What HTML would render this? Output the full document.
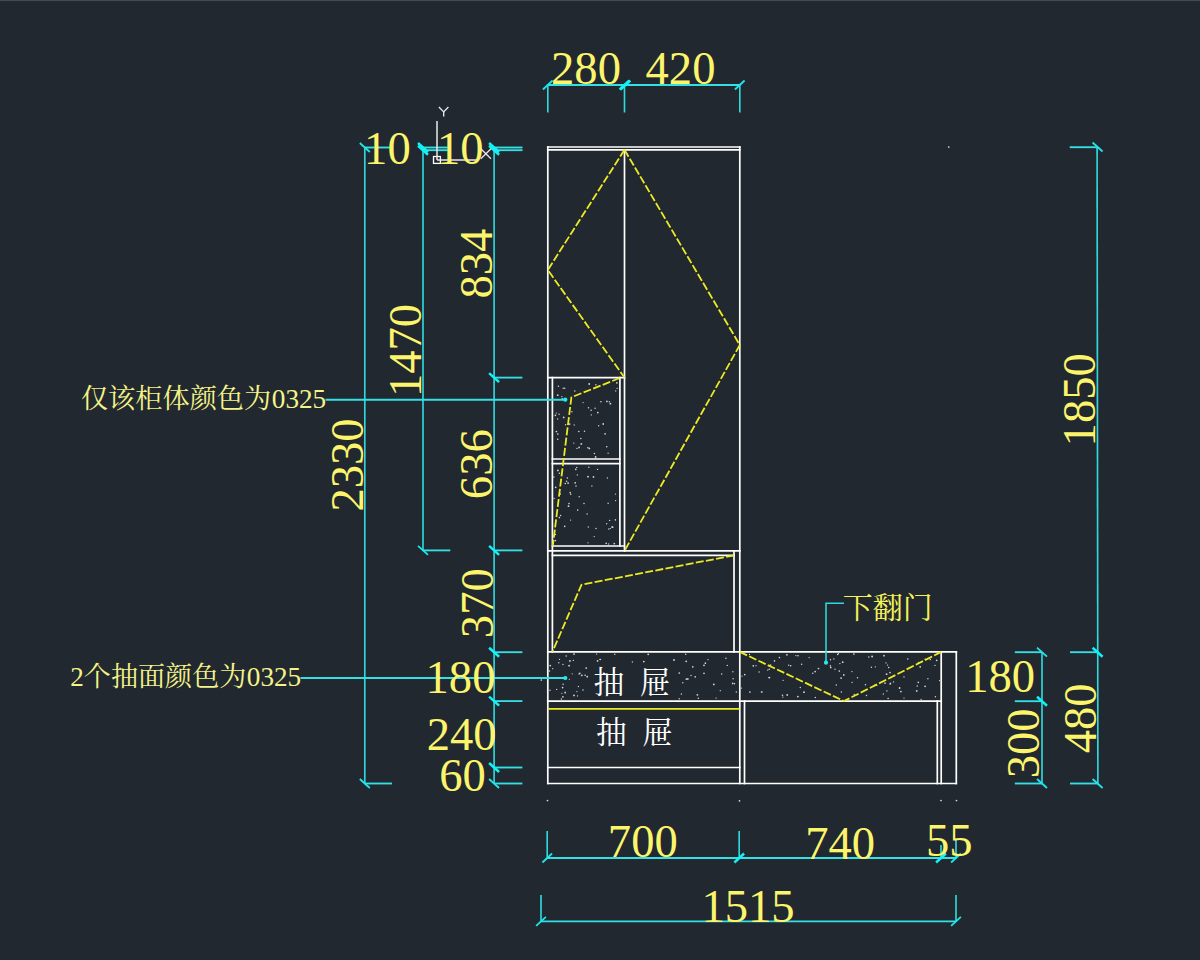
<!DOCTYPE html>
<html lang="zh"><head><meta charset="utf-8"><title>柜体立面图</title>
<style>
html,body{margin:0;padding:0;background:#212830;}
body{width:1200px;height:960px;overflow:hidden;font-family:"Liberation Serif",serif;}
svg{display:block;}
</style></head><body>
<svg width="1200" height="960" viewBox="0 0 1200 960">
<rect width="1200" height="960" fill="#212830"/>
<rect width="1200" height="1" fill="#434955"/><rect y="1" width="1200" height="1" fill="#252b35"/>
<g fill="#d2d5d8">
<circle cx="574.8" cy="390.9" r="0.74"/>
<circle cx="595.9" cy="384.8" r="0.78"/>
<circle cx="588.5" cy="407.8" r="0.73"/>
<circle cx="557.6" cy="418.9" r="0.72"/>
<circle cx="556.3" cy="413.1" r="0.64"/>
<circle cx="558.4" cy="386.2" r="0.70"/>
<circle cx="581.3" cy="443.9" r="0.91"/>
<circle cx="561.9" cy="396.6" r="0.66"/>
<circle cx="594.4" cy="453.4" r="0.77"/>
<circle cx="591.1" cy="410.2" r="0.81"/>
<circle cx="616.9" cy="382.8" r="0.88"/>
<circle cx="609.3" cy="401.8" r="0.68"/>
<circle cx="563.2" cy="388.3" r="0.70"/>
<circle cx="573.8" cy="443.1" r="0.69"/>
<circle cx="565.6" cy="424.7" r="0.74"/>
<circle cx="595.1" cy="408.3" r="0.75"/>
<circle cx="589.2" cy="384.0" r="0.91"/>
<circle cx="557.7" cy="395.2" r="0.87"/>
<circle cx="597.8" cy="412.6" r="0.88"/>
<circle cx="574.2" cy="425.0" r="0.63"/>
<circle cx="583.1" cy="402.6" r="0.63"/>
<circle cx="605.1" cy="433.9" r="0.83"/>
<circle cx="569.6" cy="424.1" r="0.89"/>
<circle cx="587.8" cy="447.7" r="0.76"/>
<circle cx="600.9" cy="401.7" r="0.80"/>
<circle cx="617.1" cy="388.4" r="0.62"/>
<circle cx="580.9" cy="438.5" r="0.74"/>
<circle cx="563.7" cy="417.4" r="0.90"/>
<circle cx="556.4" cy="431.5" r="0.87"/>
<circle cx="603.2" cy="424.0" r="0.88"/>
<circle cx="610.4" cy="403.7" r="0.91"/>
<circle cx="598.7" cy="425.7" r="0.69"/>
<circle cx="591.3" cy="414.9" r="0.65"/>
<circle cx="608.1" cy="453.2" r="0.67"/>
<circle cx="584.5" cy="431.2" r="0.78"/>
<circle cx="557.8" cy="434.1" r="0.82"/>
<circle cx="595.6" cy="457.0" r="0.90"/>
<circle cx="606.9" cy="401.4" r="0.84"/>
<circle cx="578.8" cy="431.5" r="0.81"/>
<circle cx="555.4" cy="415.3" r="0.85"/>
<circle cx="564.7" cy="388.3" r="0.76"/>
<circle cx="557.7" cy="439.3" r="0.79"/>
<circle cx="562.2" cy="398.5" r="0.63"/>
<circle cx="579.1" cy="447.4" r="0.85"/>
<circle cx="559.1" cy="414.3" r="0.69"/>
<circle cx="589.3" cy="448.4" r="0.90"/>
<circle cx="606.7" cy="446.8" r="0.81"/>
<circle cx="571.9" cy="411.7" r="0.71"/>
<circle cx="577.0" cy="448.4" r="0.66"/>
<circle cx="615.7" cy="390.9" r="0.70"/>
<circle cx="565.3" cy="483.5" r="0.81"/>
<circle cx="569.0" cy="503.6" r="0.83"/>
<circle cx="591.9" cy="486.0" r="0.65"/>
<circle cx="554.2" cy="498.4" r="0.64"/>
<circle cx="577.7" cy="510.1" r="0.78"/>
<circle cx="615.4" cy="519.9" r="0.79"/>
<circle cx="587.1" cy="514.1" r="0.74"/>
<circle cx="597.5" cy="469.4" r="0.69"/>
<circle cx="611.9" cy="527.0" r="0.80"/>
<circle cx="610.3" cy="528.5" r="0.62"/>
<circle cx="579.2" cy="496.8" r="0.71"/>
<circle cx="560.6" cy="515.5" r="0.76"/>
<circle cx="557.9" cy="470.4" r="0.91"/>
<circle cx="567.4" cy="478.0" r="0.81"/>
<circle cx="575.8" cy="469.3" r="0.89"/>
<circle cx="553.9" cy="477.1" r="0.76"/>
<circle cx="560.4" cy="494.0" r="0.69"/>
<circle cx="555.5" cy="534.5" r="0.69"/>
<circle cx="593.5" cy="476.9" r="0.91"/>
<circle cx="570.2" cy="492.7" r="0.83"/>
<circle cx="577.4" cy="474.9" r="0.71"/>
<circle cx="608.7" cy="544.0" r="0.63"/>
<circle cx="584.0" cy="503.5" r="0.77"/>
<circle cx="559.4" cy="473.2" r="0.82"/>
<circle cx="576.0" cy="486.1" r="0.75"/>
<circle cx="607.4" cy="477.9" r="0.70"/>
<circle cx="555.4" cy="540.6" r="0.82"/>
<circle cx="588.0" cy="476.7" r="0.90"/>
<circle cx="588.9" cy="467.2" r="0.69"/>
<circle cx="588.0" cy="542.8" r="0.63"/>
<circle cx="609.6" cy="520.4" r="0.72"/>
<circle cx="570.7" cy="494.2" r="0.75"/>
<circle cx="564.7" cy="526.4" r="0.82"/>
<circle cx="588.3" cy="527.0" r="0.68"/>
<circle cx="575.2" cy="482.8" r="0.86"/>
<circle cx="606.2" cy="543.3" r="0.84"/>
<circle cx="608.9" cy="529.1" r="0.77"/>
<circle cx="606.7" cy="523.8" r="0.68"/>
<circle cx="568.5" cy="506.2" r="0.91"/>
<circle cx="576.8" cy="467.4" r="0.71"/>
<circle cx="555.7" cy="487.3" r="0.87"/>
<circle cx="570.6" cy="520.1" r="0.69"/>
<circle cx="615.6" cy="500.6" r="0.69"/>
<circle cx="614.3" cy="543.6" r="0.85"/>
<circle cx="615.5" cy="494.1" r="0.71"/>
<circle cx="568.1" cy="483.1" r="0.91"/>
<circle cx="566.6" cy="481.3" r="0.77"/>
<circle cx="594.2" cy="536.6" r="0.68"/>
<circle cx="608.1" cy="503.2" r="0.69"/>
<circle cx="596.0" cy="528.6" r="0.75"/>
<circle cx="559.4" cy="517.6" r="0.82"/>
<circle cx="612.6" cy="527.2" r="0.90"/>
<circle cx="691.0" cy="675.5" r="0.66"/>
<circle cx="583.0" cy="689.9" r="0.74"/>
<circle cx="732.9" cy="671.7" r="0.68"/>
<circle cx="686.2" cy="661.3" r="0.91"/>
<circle cx="573.3" cy="660.4" r="0.66"/>
<circle cx="720.3" cy="690.7" r="0.64"/>
<circle cx="576.9" cy="691.6" r="0.64"/>
<circle cx="734.5" cy="683.8" r="0.74"/>
<circle cx="574.0" cy="654.1" r="0.89"/>
<circle cx="732.7" cy="683.4" r="0.89"/>
<circle cx="705.4" cy="663.2" r="0.84"/>
<circle cx="574.0" cy="695.4" r="0.92"/>
<circle cx="648.2" cy="654.3" r="0.90"/>
<circle cx="632.4" cy="661.9" r="0.72"/>
<circle cx="550.0" cy="690.3" r="0.68"/>
<circle cx="581.8" cy="675.3" r="0.90"/>
<circle cx="686.3" cy="679.1" r="0.84"/>
<circle cx="569.3" cy="679.3" r="0.63"/>
<circle cx="695.2" cy="676.9" r="0.82"/>
<circle cx="721.7" cy="673.9" r="0.73"/>
<circle cx="681.4" cy="693.9" r="0.73"/>
<circle cx="727.3" cy="665.4" r="0.72"/>
<circle cx="708.0" cy="659.7" r="0.67"/>
<circle cx="572.2" cy="673.8" r="0.62"/>
<circle cx="563.0" cy="664.5" r="0.70"/>
<circle cx="563.1" cy="684.3" r="0.73"/>
<circle cx="697.4" cy="694.8" r="0.91"/>
<circle cx="578.4" cy="686.5" r="0.66"/>
<circle cx="674.0" cy="660.0" r="0.91"/>
<circle cx="716.1" cy="698.1" r="0.68"/>
<circle cx="736.3" cy="691.9" r="0.73"/>
<circle cx="579.8" cy="673.3" r="0.87"/>
<circle cx="586.2" cy="668.1" r="0.87"/>
<circle cx="685.7" cy="654.3" r="0.75"/>
<circle cx="552.7" cy="668.7" r="0.63"/>
<circle cx="561.4" cy="698.9" r="0.76"/>
<circle cx="698.3" cy="698.3" r="0.73"/>
<circle cx="569.1" cy="665.7" r="0.90"/>
<circle cx="556.7" cy="689.4" r="0.68"/>
<circle cx="600.4" cy="659.4" r="0.73"/>
<circle cx="704.0" cy="665.3" r="0.89"/>
<circle cx="577.5" cy="695.9" r="0.63"/>
<circle cx="566.2" cy="656.1" r="0.74"/>
<circle cx="679.3" cy="673.0" r="0.86"/>
<circle cx="562.9" cy="696.8" r="0.85"/>
<circle cx="565.1" cy="693.0" r="0.63"/>
<circle cx="561.8" cy="693.3" r="0.63"/>
<circle cx="599.9" cy="659.4" r="0.64"/>
<circle cx="569.9" cy="660.9" r="0.90"/>
<circle cx="558.8" cy="662.7" r="0.70"/>
<circle cx="692.8" cy="666.8" r="0.84"/>
<circle cx="643.8" cy="661.6" r="0.89"/>
<circle cx="614.8" cy="654.2" r="0.72"/>
<circle cx="596.6" cy="654.1" r="0.70"/>
<circle cx="687.8" cy="678.9" r="0.91"/>
<circle cx="585.1" cy="675.3" r="0.81"/>
<circle cx="725.9" cy="658.3" r="0.70"/>
<circle cx="704.0" cy="673.4" r="0.83"/>
<circle cx="679.2" cy="698.8" r="0.71"/>
<circle cx="682.8" cy="682.8" r="0.70"/>
<circle cx="559.5" cy="659.4" r="0.62"/>
<circle cx="562.6" cy="687.6" r="0.85"/>
<circle cx="597.6" cy="660.9" r="0.89"/>
<circle cx="565.2" cy="692.3" r="0.81"/>
<circle cx="713.8" cy="684.4" r="0.90"/>
<circle cx="579.0" cy="674.0" r="0.63"/>
<circle cx="733.1" cy="678.7" r="0.69"/>
<circle cx="549.5" cy="671.0" r="0.76"/>
<circle cx="587.2" cy="676.7" r="0.91"/>
<circle cx="550.2" cy="665.6" r="0.91"/>
<circle cx="759.1" cy="671.9" r="0.74"/>
<circle cx="749.5" cy="654.4" r="0.70"/>
<circle cx="801.6" cy="664.2" r="0.75"/>
<circle cx="857.5" cy="677.8" r="0.77"/>
<circle cx="890.2" cy="683.8" r="0.90"/>
<circle cx="883.3" cy="694.0" r="0.67"/>
<circle cx="818.5" cy="668.5" r="0.86"/>
<circle cx="936.7" cy="660.3" r="0.84"/>
<circle cx="885.0" cy="683.1" r="0.87"/>
<circle cx="749.9" cy="692.0" r="0.85"/>
<circle cx="918.3" cy="682.4" r="0.80"/>
<circle cx="886.9" cy="690.9" r="0.72"/>
<circle cx="768.9" cy="677.6" r="0.72"/>
<circle cx="841.3" cy="692.0" r="0.73"/>
<circle cx="900.9" cy="691.6" r="0.85"/>
<circle cx="857.2" cy="694.6" r="0.64"/>
<circle cx="876.8" cy="685.4" r="0.68"/>
<circle cx="786.9" cy="654.8" r="0.85"/>
<circle cx="767.7" cy="670.1" r="0.69"/>
<circle cx="762.1" cy="692.0" r="0.64"/>
<circle cx="852.1" cy="682.4" r="0.63"/>
<circle cx="865.5" cy="684.8" r="0.79"/>
<circle cx="838.4" cy="653.6" r="0.72"/>
<circle cx="899.6" cy="688.0" r="0.91"/>
<circle cx="841.1" cy="678.1" r="0.89"/>
<circle cx="872.1" cy="656.5" r="0.92"/>
<circle cx="887.5" cy="665.1" r="0.70"/>
<circle cx="756.0" cy="665.7" r="0.65"/>
<circle cx="886.0" cy="662.9" r="0.65"/>
<circle cx="888.1" cy="698.5" r="0.77"/>
<circle cx="839.3" cy="671.1" r="0.83"/>
<circle cx="836.3" cy="685.0" r="0.75"/>
<circle cx="893.5" cy="681.9" r="0.69"/>
<circle cx="868.8" cy="657.0" r="0.75"/>
<circle cx="770.5" cy="665.1" r="0.81"/>
<circle cx="888.7" cy="667.5" r="0.82"/>
<circle cx="853.9" cy="654.0" r="0.84"/>
<circle cx="753.3" cy="665.8" r="0.87"/>
<circle cx="874.6" cy="685.4" r="0.82"/>
<circle cx="875.3" cy="666.8" r="0.66"/>
<circle cx="843.8" cy="674.9" r="0.87"/>
<circle cx="833.8" cy="658.9" r="0.71"/>
<circle cx="918.6" cy="662.6" r="0.79"/>
<circle cx="935.4" cy="696.7" r="0.73"/>
<circle cx="744.7" cy="674.6" r="0.84"/>
<circle cx="904.0" cy="698.1" r="0.68"/>
<circle cx="830.4" cy="665.8" r="0.69"/>
<circle cx="782.9" cy="697.1" r="0.69"/>
<circle cx="783.1" cy="680.3" r="0.67"/>
<circle cx="769.4" cy="677.6" r="0.89"/>
<circle cx="930.3" cy="659.5" r="0.79"/>
<circle cx="904.0" cy="676.9" r="0.72"/>
<circle cx="917.2" cy="685.9" r="0.74"/>
<circle cx="787.2" cy="694.9" r="0.92"/>
<circle cx="837.7" cy="654.5" r="0.77"/>
<circle cx="742.0" cy="676.1" r="0.69"/>
<circle cx="830.7" cy="667.4" r="0.86"/>
<circle cx="769.2" cy="669.3" r="0.82"/>
<circle cx="804.0" cy="692.2" r="0.92"/>
<circle cx="741.6" cy="688.1" r="0.65"/>
<circle cx="907.8" cy="658.9" r="0.76"/>
<circle cx="925.1" cy="686.3" r="0.87"/>
<circle cx="920.2" cy="666.8" r="0.87"/>
<circle cx="815.1" cy="671.6" r="0.89"/>
<circle cx="939.5" cy="680.6" r="0.63"/>
<circle cx="812.8" cy="673.2" r="0.71"/>
<circle cx="795.9" cy="655.6" r="0.66"/>
<circle cx="761.4" cy="692.0" r="0.68"/>
<circle cx="797.9" cy="696.6" r="0.91"/>
<circle cx="790.7" cy="665.7" r="0.79"/>
<circle cx="842.7" cy="662.2" r="0.90"/>
<circle cx="815.3" cy="697.6" r="0.73"/>
<circle cx="916.7" cy="690.9" r="0.88"/>
<circle cx="866.5" cy="695.6" r="0.75"/>
<circle cx="927.9" cy="678.8" r="0.70"/>
<circle cx="884.0" cy="655.7" r="0.85"/>
<circle cx="886.6" cy="674.2" r="0.90"/>
<circle cx="890.6" cy="683.2" r="0.65"/>
<circle cx="798.0" cy="655.7" r="0.80"/>
<circle cx="925.2" cy="659.3" r="0.81"/>
<circle cx="835.0" cy="669.3" r="0.69"/>
<circle cx="800.3" cy="687.5" r="0.73"/>
<circle cx="935.0" cy="665.4" r="0.66"/>
<circle cx="871.4" cy="667.3" r="0.68"/>
<circle cx="851.9" cy="671.6" r="0.70"/>
<circle cx="774.5" cy="660.9" r="0.80"/>
<circle cx="782.5" cy="695.3" r="0.82"/>
<circle cx="839.9" cy="663.6" r="0.68"/>
<circle cx="921.1" cy="699.4" r="0.62"/>
<circle cx="830.5" cy="659.8" r="0.72"/>
<circle cx="779.4" cy="657.6" r="0.82"/>
<circle cx="809.1" cy="657.6" r="0.68"/>
<circle cx="788.7" cy="665.3" r="0.71"/>
<circle cx="854.3" cy="694.4" r="0.68"/>
<circle cx="890.0" cy="672.5" r="0.86"/>
</g>
<g stroke-linecap="square">
<line x1="547.8" y1="147.0" x2="547.8" y2="783.5" stroke="#ffffff" stroke-width="1.7"/>
<line x1="547.8" y1="147.0" x2="739.8" y2="147.0" stroke="#ffffff" stroke-width="1.7"/>
<line x1="547.8" y1="149.8" x2="739.8" y2="149.8" stroke="#ffffff" stroke-width="1.7"/>
<line x1="739.8" y1="147.0" x2="739.8" y2="783.5" stroke="#ffffff" stroke-width="1.7"/>
<line x1="624.5" y1="149.8" x2="624.5" y2="550.9" stroke="#ffffff" stroke-width="1.7"/>
<line x1="547.8" y1="377.6" x2="624.5" y2="377.6" stroke="#ffffff" stroke-width="1.7"/>
<line x1="552.4" y1="377.6" x2="552.4" y2="651.9" stroke="#ffffff" stroke-width="1.7"/>
<line x1="619.9" y1="377.6" x2="619.9" y2="546.0" stroke="#ffffff" stroke-width="1.7"/>
<line x1="552.4" y1="459.0" x2="619.9" y2="459.0" stroke="#ffffff" stroke-width="1.7"/>
<line x1="552.4" y1="463.6" x2="619.9" y2="463.6" stroke="#ffffff" stroke-width="1.7"/>
<line x1="552.4" y1="546.0" x2="624.5" y2="546.0" stroke="#ffffff" stroke-width="1.7"/>
<line x1="547.8" y1="550.9" x2="739.8" y2="550.9" stroke="#ffffff" stroke-width="1.7"/>
<line x1="552.4" y1="555.4" x2="734.0" y2="555.4" stroke="#ffffff" stroke-width="1.7"/>
<line x1="734.0" y1="550.9" x2="734.0" y2="651.9" stroke="#ffffff" stroke-width="1.7"/>
<line x1="547.8" y1="651.9" x2="956.3" y2="651.9" stroke="#ffffff" stroke-width="1.7"/>
<line x1="547.8" y1="701.1" x2="941.2" y2="701.1" stroke="#ffffff" stroke-width="1.7"/>
<line x1="744.5" y1="701.1" x2="744.5" y2="783.5" stroke="#ffffff" stroke-width="1.7"/>
<line x1="547.8" y1="767.5" x2="739.8" y2="767.5" stroke="#ffffff" stroke-width="1.7"/>
<line x1="547.8" y1="783.5" x2="956.3" y2="783.5" stroke="#ffffff" stroke-width="1.7"/>
<line x1="956.3" y1="651.9" x2="956.3" y2="783.5" stroke="#ffffff" stroke-width="1.7"/>
<line x1="941.2" y1="651.9" x2="941.2" y2="783.5" stroke="#ffffff" stroke-width="1.7"/>
<line x1="937.3" y1="701.1" x2="937.3" y2="783.5" stroke="#ffffff" stroke-width="1.7"/>
</g>
<line x1="547.8" y1="708.9" x2="739.8" y2="708.9" stroke="#ecea22" stroke-width="1.9"/>
<polyline points="624.5,149.8 547.8,270.0 624.5,377.6" fill="none" stroke="#ecea22" stroke-width="1.8" stroke-dasharray="8 2.3" stroke-linejoin="miter"/>
<polyline points="624.5,149.8 739.8,345.0 624.5,550.9" fill="none" stroke="#ecea22" stroke-width="1.8" stroke-dasharray="8 2.3" stroke-linejoin="miter"/>
<polyline points="619.7,378.0 571.4,397.3 552.8,546.0" fill="none" stroke="#ecea22" stroke-width="1.8" stroke-dasharray="8 2.3" stroke-linejoin="miter"/>
<polyline points="734.0,555.4 581.5,584.7 552.4,651.9" fill="none" stroke="#ecea22" stroke-width="1.8" stroke-dasharray="8 2.3" stroke-linejoin="miter"/>
<polyline points="739.8,651.9 844.0,701.1 941.2,651.9" fill="none" stroke="#ecea22" stroke-width="1.8" stroke-dasharray="8 2.3" stroke-linejoin="miter"/>
<line x1="547.8" y1="85.0" x2="739.8" y2="85.0" stroke="#35e0e5" stroke-width="1.85"/>
<line x1="547.8" y1="84.2" x2="547.8" y2="112.5" stroke="#30d8de" stroke-width="1.65"/>
<line x1="542.9" y1="89.5" x2="552.6" y2="80.5" stroke="#20e6ea" stroke-width="1.8"/>
<line x1="624.5" y1="84.2" x2="624.5" y2="112.5" stroke="#30d8de" stroke-width="1.65"/>
<line x1="619.6" y1="89.5" x2="629.4" y2="80.5" stroke="#12f2f6" stroke-width="2.5"/>
<line x1="739.8" y1="84.2" x2="739.8" y2="112.5" stroke="#30d8de" stroke-width="1.65"/>
<line x1="734.9" y1="89.5" x2="744.6" y2="80.5" stroke="#20e6ea" stroke-width="1.8"/>
<line x1="620.5" y1="89.7" x2="630.3" y2="80.7" stroke="#12f2f6" stroke-width="2.5"/>
<line x1="364.8" y1="147.3" x2="364.8" y2="783.5" stroke="#30d8de" stroke-width="1.65"/>
<line x1="423.0" y1="147.3" x2="423.0" y2="550.9" stroke="#30d8de" stroke-width="1.65"/>
<line x1="494.1" y1="147.3" x2="494.1" y2="783.5" stroke="#30d8de" stroke-width="1.65"/>
<line x1="364.8" y1="147.5" x2="393.0" y2="147.5" stroke="#35e0e5" stroke-width="1.85"/>
<line x1="359.8" y1="143.0" x2="369.8" y2="152.0" stroke="#20e6ea" stroke-width="1.8"/>
<line x1="364.8" y1="783.5" x2="392.0" y2="783.5" stroke="#35e0e5" stroke-width="1.85"/>
<line x1="359.8" y1="779.0" x2="369.8" y2="788.0" stroke="#20e6ea" stroke-width="1.8"/>
<line x1="423.0" y1="147.5" x2="450.0" y2="147.5" stroke="#35e0e5" stroke-width="1.85"/>
<line x1="418.0" y1="143.0" x2="428.0" y2="152.0" stroke="#12f2f6" stroke-width="2.5"/>
<line x1="494.1" y1="147.5" x2="522.5" y2="147.5" stroke="#35e0e5" stroke-width="1.85"/>
<line x1="489.1" y1="143.0" x2="499.1" y2="152.0" stroke="#12f2f6" stroke-width="2.5"/>
<line x1="423.0" y1="150.2" x2="450.0" y2="150.2" stroke="#35e0e5" stroke-width="1.85"/>
<line x1="418.0" y1="145.7" x2="428.0" y2="154.7" stroke="#12f2f6" stroke-width="2.5"/>
<line x1="494.1" y1="150.2" x2="522.5" y2="150.2" stroke="#35e0e5" stroke-width="1.85"/>
<line x1="489.1" y1="145.7" x2="499.1" y2="154.7" stroke="#12f2f6" stroke-width="2.5"/>
<line x1="423.0" y1="550.4" x2="450.3" y2="550.4" stroke="#35e0e5" stroke-width="1.85"/>
<line x1="418.0" y1="545.9" x2="428.0" y2="554.9" stroke="#20e6ea" stroke-width="1.8"/>
<line x1="494.1" y1="377.6" x2="522.4" y2="377.6" stroke="#35e0e5" stroke-width="1.85"/>
<line x1="489.1" y1="373.1" x2="499.1" y2="382.1" stroke="#12f2f6" stroke-width="2.5"/>
<line x1="494.1" y1="550.4" x2="522.4" y2="550.4" stroke="#35e0e5" stroke-width="1.85"/>
<line x1="489.1" y1="545.9" x2="499.1" y2="554.9" stroke="#12f2f6" stroke-width="2.5"/>
<line x1="494.1" y1="652.2" x2="522.4" y2="652.2" stroke="#35e0e5" stroke-width="1.85"/>
<line x1="489.1" y1="647.7" x2="499.1" y2="656.7" stroke="#12f2f6" stroke-width="2.5"/>
<line x1="494.1" y1="701.1" x2="522.4" y2="701.1" stroke="#35e0e5" stroke-width="1.85"/>
<line x1="489.1" y1="696.6" x2="499.1" y2="705.6" stroke="#12f2f6" stroke-width="2.5"/>
<line x1="494.1" y1="767.5" x2="522.4" y2="767.5" stroke="#35e0e5" stroke-width="1.85"/>
<line x1="489.1" y1="763.0" x2="499.1" y2="772.0" stroke="#12f2f6" stroke-width="2.5"/>
<line x1="494.1" y1="783.5" x2="522.4" y2="783.5" stroke="#35e0e5" stroke-width="1.85"/>
<line x1="489.1" y1="779.0" x2="499.1" y2="788.0" stroke="#20e6ea" stroke-width="1.8"/>
<line x1="1042.0" y1="651.9" x2="1042.0" y2="783.5" stroke="#30d8de" stroke-width="1.65"/>
<line x1="1097.1" y1="147.2" x2="1097.9" y2="783.5" stroke="#30d8de" stroke-width="1.65"/>
<line x1="1014.8" y1="652.2" x2="1042.0" y2="652.2" stroke="#35e0e5" stroke-width="1.85"/>
<line x1="1037.0" y1="647.7" x2="1047.0" y2="656.7" stroke="#20e6ea" stroke-width="1.8"/>
<line x1="1014.8" y1="701.2" x2="1042.0" y2="701.2" stroke="#35e0e5" stroke-width="1.85"/>
<line x1="1037.0" y1="696.7" x2="1047.0" y2="705.7" stroke="#12f2f6" stroke-width="2.5"/>
<line x1="1014.8" y1="783.5" x2="1042.0" y2="783.5" stroke="#35e0e5" stroke-width="1.85"/>
<line x1="1037.0" y1="779.0" x2="1047.0" y2="788.0" stroke="#20e6ea" stroke-width="1.8"/>
<line x1="1069.7" y1="147.2" x2="1097.6" y2="147.2" stroke="#35e0e5" stroke-width="1.85"/>
<line x1="1092.6" y1="142.5" x2="1102.6" y2="151.5" stroke="#20e6ea" stroke-width="1.8"/>
<line x1="1070.0" y1="652.2" x2="1097.6" y2="652.2" stroke="#35e0e5" stroke-width="1.85"/>
<line x1="1092.6" y1="647.7" x2="1102.6" y2="656.7" stroke="#12f2f6" stroke-width="2.5"/>
<line x1="1070.0" y1="783.5" x2="1097.6" y2="783.5" stroke="#35e0e5" stroke-width="1.85"/>
<line x1="1092.6" y1="779.0" x2="1102.6" y2="788.0" stroke="#20e6ea" stroke-width="1.8"/>
<line x1="547.2" y1="858.0" x2="956.0" y2="858.0" stroke="#35e0e5" stroke-width="1.85"/>
<line x1="547.2" y1="831.0" x2="547.2" y2="858.8" stroke="#30d8de" stroke-width="1.65"/>
<line x1="542.4" y1="862.5" x2="552.1" y2="853.5" stroke="#20e6ea" stroke-width="1.8"/>
<line x1="739.2" y1="831.0" x2="739.2" y2="858.8" stroke="#30d8de" stroke-width="1.65"/>
<line x1="734.4" y1="862.5" x2="744.1" y2="853.5" stroke="#12f2f6" stroke-width="2.5"/>
<line x1="941.0" y1="845.0" x2="941.0" y2="858.8" stroke="#30d8de" stroke-width="1.65"/>
<line x1="936.1" y1="862.5" x2="945.9" y2="853.5" stroke="#12f2f6" stroke-width="2.5"/>
<line x1="956.0" y1="839.0" x2="956.0" y2="858.8" stroke="#30d8de" stroke-width="1.65"/>
<line x1="951.1" y1="862.5" x2="960.9" y2="853.5" stroke="#20e6ea" stroke-width="1.8"/>
<line x1="541.0" y1="921.3" x2="956.0" y2="921.3" stroke="#35e0e5" stroke-width="1.85"/>
<line x1="541.0" y1="895.0" x2="541.0" y2="922.1" stroke="#30d8de" stroke-width="1.65"/>
<line x1="536.1" y1="925.8" x2="545.9" y2="916.8" stroke="#20e6ea" stroke-width="1.8"/>
<line x1="956.0" y1="895.0" x2="956.0" y2="922.1" stroke="#30d8de" stroke-width="1.65"/>
<line x1="951.1" y1="925.8" x2="960.9" y2="916.8" stroke="#20e6ea" stroke-width="1.8"/>
<circle cx="547.5" cy="800.5" r="0.85" fill="#dfe1e3"/>
<circle cx="739.5" cy="800.8" r="0.85" fill="#dfe1e3"/>
<circle cx="941.0" cy="800.5" r="0.85" fill="#dfe1e3"/>
<circle cx="956.5" cy="800.5" r="0.85" fill="#dfe1e3"/>
<circle cx="948.7" cy="147.0" r="0.85" fill="#dfe1e3"/>
<circle cx="541.3" cy="680.0" r="0.85" fill="#dfe1e3"/>
<line x1="325.5" y1="399.7" x2="565.0" y2="399.7" stroke="#35e0e5" stroke-width="1.85"/>
<circle cx="565.3" cy="399.7" r="2.1" fill="#22eaf0"/>
<line x1="300.5" y1="678.0" x2="565.0" y2="678.0" stroke="#35e0e5" stroke-width="1.85"/>
<circle cx="565.3" cy="678.0" r="2.1" fill="#22eaf0"/>
<polyline points="844.0,603.3 826.0,603.3 826.0,662.5" fill="none" stroke="#30d8de" stroke-width="1.55"/>
<circle cx="826" cy="662.7" r="2.1" fill="#22eaf0"/>
<rect x="433.5" y="156.5" width="6.9" height="6.9" fill="none" stroke="#ffffff" stroke-width="1.3"/>
<line x1="437.0" y1="121.1" x2="437.0" y2="159.9" stroke="#e9e9e9" stroke-width="1.5"/>
<line x1="437.0" y1="159.9" x2="476.5" y2="159.9" stroke="#e9e9e9" stroke-width="1.5"/>
<polyline points="438.9,107.0 443.7,111.9 448.4,107.0" fill="none" stroke="#e9e9e9" stroke-width="1.35"/>
<line x1="443.7" y1="111.9" x2="443.7" y2="116.5" stroke="#e9e9e9" stroke-width="1.35"/>
<line x1="480.8" y1="148.7" x2="491.0" y2="158.8" stroke="#e9e9e9" stroke-width="1.25"/>
<line x1="491.0" y1="148.7" x2="480.8" y2="158.8" stroke="#e9e9e9" stroke-width="1.25"/>
<g fill="#fcf56c" stroke="none" font-family='"Liberation Serif", serif'><text x="586.0" y="84.3" text-anchor="middle" font-size="46.6">280</text><text x="680.5" y="84.3" text-anchor="middle" font-size="46.6">420</text><text x="387.4" y="163.7" text-anchor="middle" font-size="46.6">10</text><text x="460.2" y="163.7" text-anchor="middle" font-size="46.6">10</text><text x="460.5" y="692.6" text-anchor="middle" font-size="46.6">180</text><text x="461.6" y="750.4" text-anchor="middle" font-size="46.6">240</text><text x="462.6" y="790.6" text-anchor="middle" font-size="46.6">60</text><text x="1000.2" y="691.6" text-anchor="middle" font-size="46.6">180</text><text x="642.8" y="857.4" text-anchor="middle" font-size="46.6">700</text><text x="840.2" y="858.6" text-anchor="middle" font-size="46.6">740</text><text x="949.2" y="856.2" text-anchor="middle" font-size="46.6">55</text><text x="748.0" y="921.8" text-anchor="middle" font-size="46.6">1515</text><text transform="translate(362.8 465.0) rotate(-90)" text-anchor="middle" font-size="46.6">2330</text><text transform="translate(421.4 350.5) rotate(-90)" text-anchor="middle" font-size="46.6">1470</text><text transform="translate(492.1 263.6) rotate(-90)" text-anchor="middle" font-size="46.6">834</text><text transform="translate(492.1 464.2) rotate(-90)" text-anchor="middle" font-size="46.6">636</text><text transform="translate(492.7 603.2) rotate(-90)" text-anchor="middle" font-size="46.6">370</text><text transform="translate(1094.9 399.8) rotate(-90)" text-anchor="middle" font-size="46.6">1850</text><text transform="translate(1039.1 743.3) rotate(-90)" text-anchor="middle" font-size="46.6">300</text><text transform="translate(1095.7 718.3) rotate(-90)" text-anchor="middle" font-size="46.6">480</text></g>
<g stroke="none" font-family='"Liberation Serif", "Noto Serif CJK SC", serif'><text x="80.9" y="407.9" font-size="27.2" fill="#f5f388">仅该柜体颜色为</text><text x="271.8" y="407.8" text-anchor="start" font-size="27.2" fill="#f5f388">0325</text><text x="70.2" y="686.0" text-anchor="start" font-size="27.2" fill="#f5f388">2</text><text x="83.8" y="686.2" font-size="27.1" fill="#f5f388">个抽面颜色为</text><text x="246.8" y="686.0" text-anchor="start" font-size="27.2" fill="#f5f388">0325</text><text x="842.7" y="618.4" font-size="30.0" fill="#f4f25a">下翻门</text><text y="693.3" font-size="30.8" fill="#ffffff"><tspan x="593.5">抽</tspan><tspan x="639.7">屉</tspan></text><text y="742.8" font-size="30.8" fill="#ffffff"><tspan x="596.1">抽</tspan><tspan x="642.3">屉</tspan></text></g>
</svg>
</body></html>
